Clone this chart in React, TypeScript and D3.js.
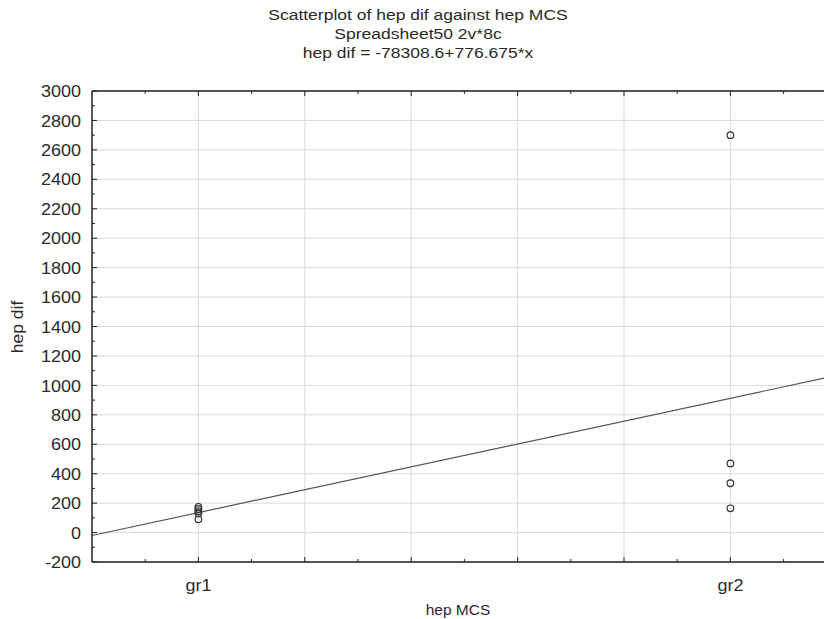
import React from "react";
import * as d3 from "d3";

const titleLines = ["Scatterplot of hep dif against hep MCS", "Spreadsheet50 2v*8c", "hep dif = -78308.6+776.675*x"];
const xLabel = "hep MCS";
const yLabel = "hep dif";
const groupNames = ["gr1", "gr2"];
const groupX = [101, 102];
const gr1Values = [175, 160, 145, 130, 90];
const gr2Values = [2700, 470, 335, 165];
const intercept = -78308.6;
const slope = 776.675;
const yTicks = [-200, 0, 200, 400, 600, 800, 1000, 1200, 1400, 1600, 1800, 2000, 2200, 2400, 2600, 2800, 3000];
const xMajor = [101, 101.2, 101.4, 101.6, 101.8, 102, 102.2];
const xMinor = [100.9, 101.1, 101.3, 101.5, 101.7, 101.9, 102.1];
const yMinor = d3.range(-100, 3000, 200);

function T(props: { x: number; y: number; anchor?: string; size: number; sx?: number; rot?: number; children: any; dy?: string }) {
  const { x, y, anchor = "start", size, sx = 1.06, rot = 0, children, dy } = props;
  return (
    <text
      transform={`translate(${x},${y}) rotate(${rot}) scale(${sx},1)`}
      textAnchor={anchor}
      fontSize={size}
      dy={dy}
      fill="#2a2a2a"
    >
      {children}
    </text>
  );
}

export default function App() {
  const W = 824, H = 619;
  const left = 92, top = 91, bottom = 562;
  const x = d3.scaleLinear().domain([100.8, 102.2]).range([left, left + 1.4 * 532]);
  const y = d3.scaleLinear().domain([-200, 3000]).range([bottom, top]);
  const right = W + 20;
  const font = "'Liberation Sans', Arial, sans-serif";
  const points = [
    ...gr1Values.map((v) => ({ gx: groupX[0], v })),
    ...gr2Values.map((v) => ({ gx: groupX[1], v })),
  ];
  const [x0, x1] = x.domain();
  const line = d3.line<number>().x((d) => x(d)).y((d) => y(intercept + slope * d));
  return (
    <svg width={W} height={H} style={{ position: "absolute", left: 0, top: 0, background: "#fff" }} fontFamily={font}>
      <rect width={W} height={H} fill="#fff" />
      {titleLines.map((t, i) => (
        <T key={i} x={418} y={20 + i * 19} anchor="middle" size={15.5} sx={1.13}>{t}</T>
      ))}
      {/* grid */}
      {yTicks.map((t) => (
        <line key={"gy" + t} x1={left} x2={right} y1={y(t)} y2={y(t)} stroke="#d9d9d9" strokeWidth={1} />
      ))}
      {xMajor.map((t) => (
        <line key={"gx" + t} x1={x(t)} x2={x(t)} y1={top} y2={bottom} stroke="#d9d9d9" strokeWidth={1} />
      ))}
      {/* regression line */}
      <path d={line([x0, x1]) || ""} stroke="#555" strokeWidth={1.2} fill="none" />
      {/* points */}
      {points.map((p, i) => (
        <circle key={i} cx={x(p.gx)} cy={y(p.v)} r={3.3} fill="none" stroke="#333" strokeWidth={1.2} />
      ))}
      {/* axes frame */}
      <line x1={left} x2={right} y1={top} y2={top} stroke="#222" strokeWidth={1.5} />
      <line x1={left} x2={right} y1={bottom} y2={bottom} stroke="#222" strokeWidth={1.5} />
      <line x1={left} x2={left} y1={top} y2={bottom} stroke="#222" strokeWidth={1.5} />
      {/* ticks */}
      {yTicks.map((t) => (
        <line key={"ty" + t} x1={left} x2={left + 5} y1={y(t)} y2={y(t)} stroke="#222" />
      ))}
      {yMinor.map((t) => (
        <line key={"tym" + t} x1={left} x2={left + 3} y1={y(t)} y2={y(t)} stroke="#222" />
      ))}
      {xMajor.map((t) => (
        <g key={"tx" + t}>
          <line x1={x(t)} x2={x(t)} y1={bottom} y2={bottom - 5} stroke="#222" />
          <line x1={x(t)} x2={x(t)} y1={top} y2={top + 5} stroke="#222" />
        </g>
      ))}
      {xMinor.map((t) => (
        <g key={"txm" + t}>
          <line x1={x(t)} x2={x(t)} y1={bottom} y2={bottom - 3} stroke="#222" />
          <line x1={x(t)} x2={x(t)} y1={top} y2={top + 3} stroke="#222" />
        </g>
      ))}
      {/* tick labels */}
      {yTicks.map((t) => (
        <T key={"ly" + t} x={81} y={y(t)} dy="0.36em" anchor="end" size={17}>{t}</T>
      ))}
      {groupNames.map((g, i) => (
        <T key={g} x={x(groupX[i])} y={591} anchor="middle" size={17}>{g}</T>
      ))}
      <T x={458} y={615} anchor="middle" size={15.5} sx={1.0}>{xLabel}</T>
      <T x={23} y={327} rot={-90} anchor="middle" size={16.5}>{yLabel}</T>
    </svg>
  );
}
